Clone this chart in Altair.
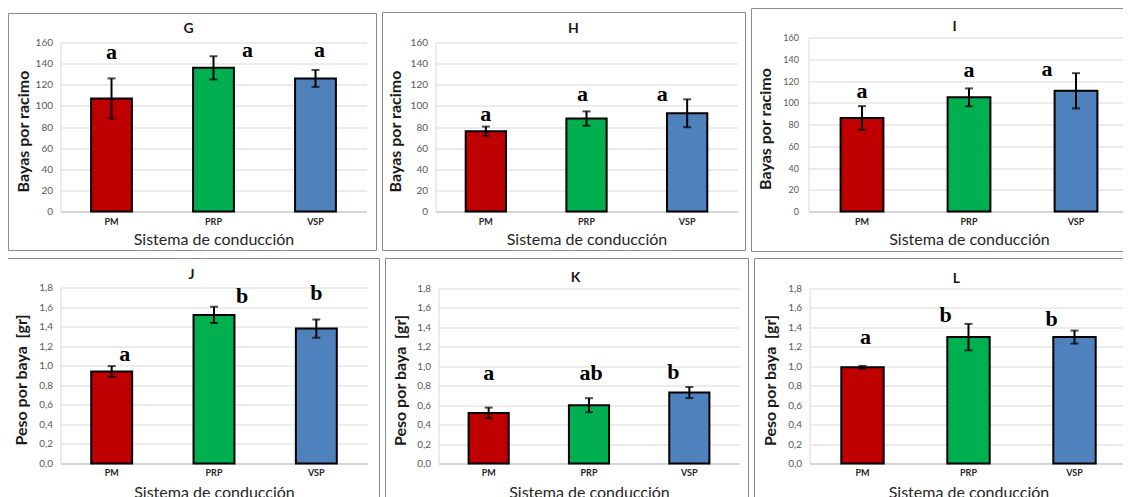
import altair as alt
import pandas as pd

# ---------------- data ----------------
systems = ["PM", "PRP", "VSP"]
bar_colors = ["#C00000", "#00B050", "#4F81BD"]

x_title = "Sistema de conducción"
title_bayas = "Bayas por racimo"
title_peso = "Peso por baya\u00a0 [gr]"

ticks_bayas = [0, 20, 40, 60, 80, 100, 120, 140, 160]
ticks_peso = [0.0, 0.2, 0.4, 0.6, 0.8, 1.0, 1.2, 1.4, 1.6, 1.8]

G_mean = [107, 136, 126]
G_err = [19, 11, 8]
G_letters = ["a", "a", "a"]
G_letter_y = [144, 146, 146]

H_mean = [76, 88, 93]
H_err = [4.4, 6.8, 13.2]
H_letters = ["a", "a", "a"]
H_letter_y = [86, 105, 105]

I_mean = [86, 105, 111]
I_err = [10.9, 8.2, 16.2]
I_letters = ["a", "a", "a"]
I_letter_y = [104.5, 124, 125]

J_mean = [0.94, 1.52, 1.38]
J_err = [0.056, 0.083, 0.094]
J_letters = ["a", "b", "b"]
J_letter_y = [1.05, 1.64, 1.67]

K_mean = [0.52, 0.60, 0.73]
K_err = [0.055, 0.072, 0.057]
K_letters = ["a", "ab", "b"]
K_letter_y = [0.86, 0.86, 0.865]

L_mean = [0.99, 1.30, 1.30]
L_err = [0.014, 0.136, 0.067]
L_letters = ["a", "b", "b"]
L_letter_y = [1.23, 1.46, 1.41]

FONT = "Lato"
SERIF = "Liberation Serif"
BORDER = "#8c8c8c"


def panel(pid, means, errs, letters, letter_y, ymax, yvals, ytitle, peso, lay):
    df = pd.DataFrame({
        "sistema": systems,
        "valor": means,
        "lo": [m - e for m, e in zip(means, errs)],
        "hi": [m + e for m, e in zip(means, errs)],
    })
    w, h, off = lay["w"], lay["h"], lay["off"]
    if peso:
        label_expr = "replace(format(datum.value, '.1f'), '.', ',')"
    else:
        label_expr = "format(datum.value, 'd')"

    xenc = alt.X(
        "sistema:N", sort=systems,
        scale=alt.Scale(domain=systems, paddingInner=0.6, paddingOuter=0.3),
        axis=alt.Axis(
            title=x_title, labelAngle=0, ticks=False, tickSize=0,
            labelFont=FONT, labelFontSize=9, labelFontWeight="bold",
            labelColor="#262626", labelPadding=lay["xlp"], labelBaseline="middle",
            titleFont=FONT, titleFontSize=16, titleFontWeight="normal",
            titleColor="#262626", titleY=lay["xty"], titleBaseline="middle",
            domainColor="#BFBFBF", domainWidth=1, grid=False,
        ),
    )
    yscale = alt.Scale(domain=[0, ymax], nice=False, zero=True, range=[h, off])
    yaxis = alt.Axis(
        title=ytitle, values=yvals, labelExpr=label_expr, ticks=False, tickSize=0,
        labelFont=FONT, labelFontSize=lay["tfs"], labelColor="#595959",
        labelPadding=lay["ylp"],
        titleFont=FONT, titleFontSize=16, titleFontWeight="bold",
        titleColor="#1a1a1a", titleX=lay["ytx"], titleY=(h + off) / 2 + 4,
        titleBaseline="middle", titleAngle=270,
        grid=True, gridColor="#D9D9D9", gridWidth=1,
        domainColor="#D9D9D9", domainWidth=1,
    )

    base = alt.Chart(df)
    bars = base.mark_bar(stroke="black", strokeWidth=2).encode(
        x=xenc,
        y=alt.Y("valor:Q", scale=yscale, axis=yaxis),
        color=alt.Color("sistema:N", scale=alt.Scale(domain=systems, range=bar_colors), legend=None),
    )
    rules = base.mark_rule(color="black", strokeWidth=2).encode(
        x=xenc, y=alt.Y("lo:Q", scale=yscale, axis=yaxis), y2="hi:Q"
    )
    cap_lo = base.mark_tick(color="black", thickness=2, size=8, orient="horizontal").encode(
        x=xenc, y=alt.Y("lo:Q", scale=yscale, axis=yaxis)
    )
    cap_hi = base.mark_tick(color="black", thickness=2, size=8, orient="horizontal").encode(
        x=xenc, y=alt.Y("hi:Q", scale=yscale, axis=yaxis)
    )

    layers = [bars, rules, cap_lo, cap_hi]
    for i in range(3):
        ldf = pd.DataFrame({"sistema": [systems[i]], "letra": [letters[i]], "pos": [letter_y[i]]})
        layers.append(
            alt.Chart(ldf).mark_text(
                dx=lay["ldx"][i], baseline="alphabetic", align="center",
                font=SERIF, fontWeight="bold", fontSize=22, color="black",
            ).encode(x=xenc, y=alt.Y("pos:Q", scale=yscale, axis=yaxis), text="letra:N")
        )

    one = pd.DataFrame({"t": [pid]})
    title = alt.Chart(one).mark_text(
        font=FONT, fontWeight="bold", fontSize=14, color="#1a1a1a",
        align="center", baseline="middle",
    ).encode(text="t:N", x=alt.value(lay["tx"]), y=alt.value(lay["ty"]))
    border = alt.Chart(one).mark_rect(
        fillOpacity=0, fill="white", stroke=BORDER, strokeWidth=1
    ).encode(
        x=alt.value(-lay["bl"]), x2=alt.value(w + lay["br"]),
        y=alt.value(-lay["bt"]), y2=alt.value(h + lay["bb"]),
    )
    layers += [title, border]
    return alt.layer(*layers).properties(width=w, height=h)


# layout of each panel (pixels relative to its plot area)
layG = dict(w=306, h=174, off=5, bl=52, br=10, bt=24, bb=39, tx=128, ty=-9,
            ytx=-37, ldx=[0, 34, 4], tfs=10, ylp=8, xlp=10, xty=28)
layH = dict(w=302, h=174, off=5, bl=53, br=8, bt=25, bb=39, tx=138, ty=-9,
            ytx=-40, ldx=[0, -4, -25], tfs=10, ylp=8, xlp=10, xty=28)
layI = dict(w=321, h=174, off=0, bl=57, br=9, bt=29, bb=40, tx=146, ty=-11,
            ytx=-43, ldx=[0, 0, -29], tfs=9, ylp=10, xlp=10, xty=28)
layJ = dict(w=307, h=176, off=0, bl=53, br=12, bt=29, bb=40, tx=131, ty=-13,
            ytx=-39, ldx=[13, 28, 0], tfs=10, ylp=8, xlp=9, xty=29)
layK = dict(w=301, h=176, off=1, bl=53, br=9, bt=29, bb=40, tx=137, ty=-10,
            ytx=-38, ldx=[0, 2, -16], tfs=10, ylp=8, xlp=9, xty=29)
layL = dict(w=318, h=176, off=1, bl=55, br=9, bt=29, bb=40, tx=147, ty=-9,
            ytx=-39, ldx=[3, -23, -23], tfs=10, ylp=8, xlp=9, xty=29)

pG = panel("G", G_mean, G_err, G_letters, G_letter_y, 160, ticks_bayas, title_bayas, False, layG)
pH = panel("H", H_mean, H_err, H_letters, H_letter_y, 160, ticks_bayas, title_bayas, False, layH)
pI = panel("I", I_mean, I_err, I_letters, I_letter_y, 160, ticks_bayas, title_bayas, False, layI)
pJ = panel("J", J_mean, J_err, J_letters, J_letter_y, 1.8, ticks_peso, title_peso, True, layJ)
pK = panel("K", K_mean, K_err, K_letters, K_letter_y, 1.8, ticks_peso, title_peso, True, layK)
pL = panel("L", L_mean, L_err, L_letters, L_letter_y, 1.8, ticks_peso, title_peso, True, layL)

row1 = alt.hconcat(pG, pH, pI, spacing=4)
row2 = alt.hconcat(pJ, pK, pL, spacing=4)
# fixed page-sized canvas (1115 x 489): left/top padding move the first panel's
# axes and frame into view, the rest of the padding sets the canvas size,
# so the panels that run past the window edge are cut like in the reference
PAD_LEFT, PAD_TOP = 52.5, 29.5
chart = alt.vconcat(row1, row2, spacing=5).properties(
    autosize=alt.AutoSizeParams(type="none"),
    padding={"left": PAD_LEFT, "top": PAD_TOP,
             "right": 1115 - PAD_LEFT, "bottom": 489 - PAD_TOP},
    background="white",
).configure_view(stroke=None).resolve_scale(color="independent")

chart.save("out.html", embed_options={"renderer": "svg", "actions": False})
